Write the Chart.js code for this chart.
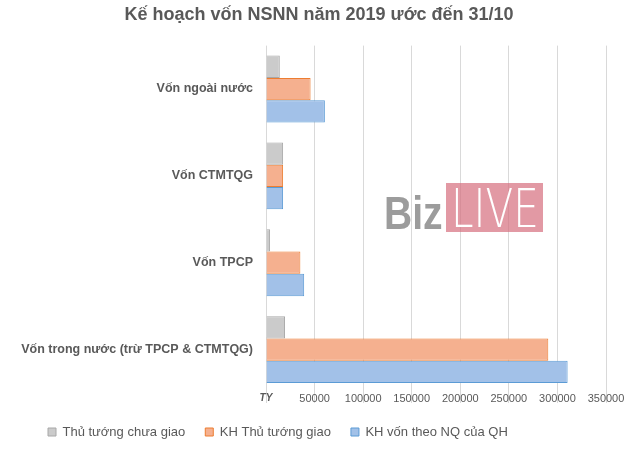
<!DOCTYPE html>
<html>
<head>
<meta charset="utf-8">
<script src="https://cdn.jsdelivr.net/npm/chart.js@4.4.0/dist/chart.umd.min.js"></script>
<style>
  html, body { margin: 0; padding: 0; background: #fff; }
  #wrap { width: 630px; height: 450px; position: relative; }
</style>
</head>
<body>
<div id="wrap"><canvas id="vonChart"></canvas></div>
<script>
// Categories (top to bottom) and series, in tỷ đồng
const categories = ['Vốn ngoài nước', 'Vốn CTMTQG', 'Vốn TPCP', 'Vốn trong nước (trừ TPCP & CTMTQG)'];
const chuaGiao = [14200, 17600, 4200, 19600];     // Thủ tướng chưa giao
const ttGiao = [45900, 17600, 35400, 290600];     // KH Thủ tướng giao
const nqQH = [60600, 17600, 39300, 310500];       // KH vốn theo NQ của QH
const xTicks = [0, 50000, 100000, 150000, 200000, 250000, 300000, 350000];

const TEXT = '#595959';
const FONT = '"Liberation Sans", Arial, sans-serif';

// BizLIVE watermark drawn over the chart
const watermark = {
    id: 'watermark',
    afterDatasetsDraw(chart) {
        const c = chart.ctx;
        c.save();
        c.fillStyle = 'rgba(214, 110, 125, 0.7)';
        c.fillRect(446, 183, 97, 49);
        c.textBaseline = 'alphabetic';

        c.save();
        c.translate(384, 229);
        c.scale(0.85, 1);
        c.font = 'bold 46px ' + FONT;
        c.fillStyle = '#9c9c9c';
        c.fillText('Biz', 0, 0);
        c.restore();

        c.save();
        c.translate(451, 227);
        c.scale(0.75, 1);
        c.font = '200 54px "DejaVu Sans", sans-serif';
        c.fillStyle = '#ffffff';
        c.fillText('LIVE', 0, 0);
        c.restore();

        c.restore();
    }
};

// nudge title, legend and x labels to where the original has them
const placeBoxes = {
    id: 'placeBoxes',
    afterLayout(chart) {
        const t = chart.titleBlock;
        t.left += 16;
        t.right += 16;

        const lg = chart.legend;
        const h = lg.bottom - lg.top;
        lg.left = 28;
        lg.top = 432 - 20 - 6.5;
        lg.bottom = lg.top + h;

        const x = chart.scales.x;
        x.bottom = x.top + 40;
        x.height = 40;
    }
};

const ctx = document.getElementById('vonChart').getContext('2d');

new Chart(ctx, {
    type: 'bar',
    data: {
        labels: categories,
        datasets: [
            {
                label: 'Thủ tướng chưa giao',
                data: chuaGiao,
                backgroundColor: '#cbcbcb',
                borderColor: '#a8a8a8',
                borderWidth: 1
            },
            {
                label: 'KH Thủ tướng giao',
                data: ttGiao,
                backgroundColor: '#f5b08f',
                borderColor: '#ed7d31',
                borderWidth: 1
            },
            {
                label: 'KH vốn theo NQ của QH',
                data: nqQH,
                backgroundColor: '#a2c1e8',
                borderColor: '#5b9bd5',
                borderWidth: 1
            }
        ]
    },
    options: {
        indexAxis: 'y',
        responsive: true,
        maintainAspectRatio: false,
        animation: false,
        layout: {
            padding: { left: 0, right: 24, top: 0, bottom: 6 }
        },
        datasets: {
            bar: { categoryPercentage: 0.77, barPercentage: 1.0 }
        },
        plugins: {
            title: {
                display: true,
                text: 'Kế hoạch vốn NSNN năm 2019 ước đến 31/10',
                color: TEXT,
                font: { family: FONT, size: 18, weight: 'bold' },
                padding: { top: 4, bottom: 20 }
            },
            legend: {
                position: 'bottom',
                align: 'start',
                labels: {
                    color: TEXT,
                    boxWidth: 8,
                    boxHeight: 8,
                    padding: 20,
                    font: { family: FONT, size: 13 }
                }
            },
            tooltip: { enabled: false }
        },
        scales: {
            x: {
                min: 0,
                max: 350000,
                afterBuildTicks(scale) {
                    scale.ticks = xTicks.map(v => ({ value: v }));
                },
                afterFit(scale) {
                    scale.height = 8;
                },
                grid: { color: '#d9d9d9', drawTicks: true, tickLength: 10, tickColor: '#d9d9d9' },
                border: { display: false },
                ticks: {
                    color: TEXT,
                    padding: -11,
                    font(c) {
                        if (c.tick && c.tick.value === 0) {
                            return { family: FONT, size: 10, weight: 'bold', style: 'italic' };
                        }
                        return { family: FONT, size: 11 };
                    },
                    callback: v => (v === 0 ? 'TỶ' : String(v))
                }
            },
            y: {
                afterFit(scale) {
                    scale.width = 266;
                },
                grid: { display: false },
                border: { display: false },
                ticks: {
                    color: TEXT,
                    padding: 5,
                    font: { family: FONT, size: 12.5, weight: 'bold' }
                }
            }
        }
    },
    plugins: [watermark, placeBoxes]
});
</script>
</body>
</html>
